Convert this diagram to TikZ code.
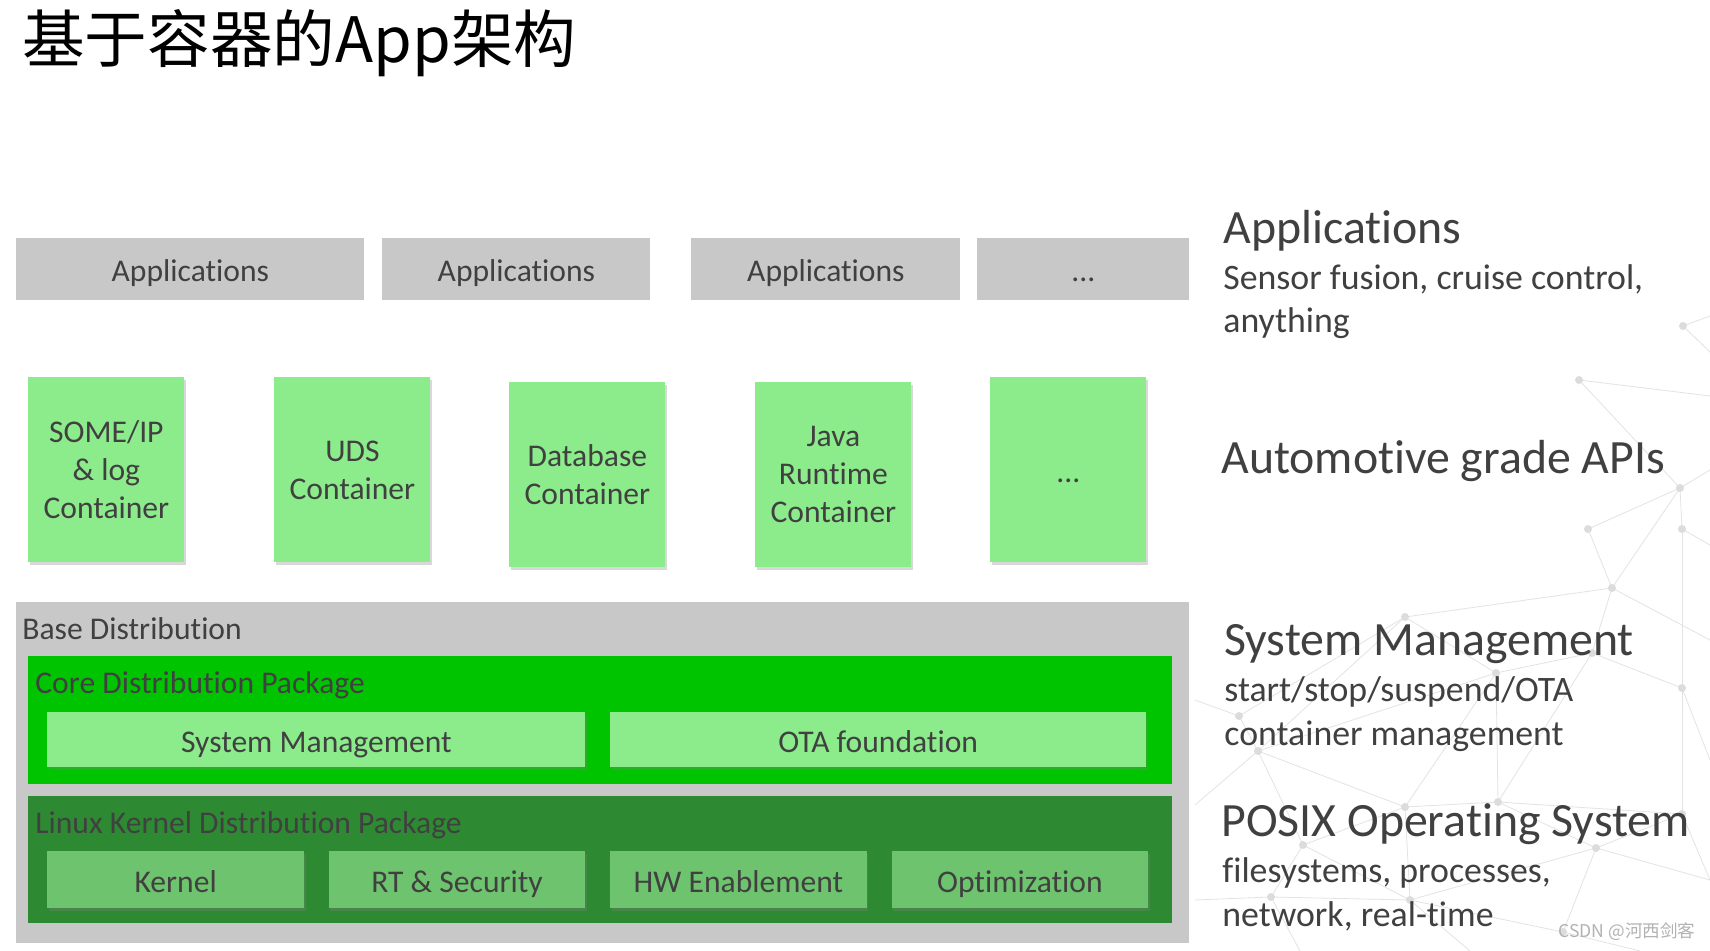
\documentclass[tikz,border=0pt]{standalone}
\usepackage{fontspec}
\setmainfont{Carlito}[Ligatures=NoCommon]
\newfontfamily\cjk{Noto Sans CJK SC}
\usetikzlibrary{positioning,shadows}
\definecolor{txtgray}{HTML}{404040}
\definecolor{appgray}{HTML}{C8C8C8}
\definecolor{lightgr}{HTML}{8CEC8C}
\definecolor{coregr}{HTML}{00C400}
\definecolor{linuxgr}{HTML}{2E8A32}
\definecolor{kernelgr}{HTML}{6EC46E}
\definecolor{netgray}{HTML}{E3E3E3}
\definecolor{dotgray}{HTML}{DCDCDC}
\tikzstyle{boxfont}=[font=\fontsize{15.8pt}{19pt}\selectfont, text=txtgray]
\tikzstyle{oneline}=[text height=12.2pt, text depth=0pt]
\tikzstyle{appbox}=[boxfont, oneline, fill=appgray, anchor=north west, minimum height=31pt, inner sep=0]
\tikzstyle{cont}=[boxfont, fill=lightgr, anchor=north west, minimum width=78pt,
		minimum height=92.5pt, align=center, inner sep=0,
		drop shadow={shadow xshift=0.8pt, shadow yshift=-1.2pt, opacity=0.3}]
\tikzstyle{panel}=[anchor=north west, inner sep=0]
\tikzstyle{ptitle}=[boxfont, anchor=base west, inner sep=0]
\tikzstyle{sub}=[boxfont, oneline, anchor=north west, inner sep=0,
		drop shadow={shadow xshift=0.8pt, shadow yshift=-1.2pt, opacity=0.3}]
\tikzstyle{heading}=[font=\fontsize{23.9pt}{28pt}\selectfont, text=txtgray, anchor=base west, inner sep=0]
\tikzstyle{detail}=[font=\fontsize{17.9pt}{22pt}\selectfont, text=txtgray, anchor=base west, inner sep=0]
\tikzstyle{netline}=[draw=netgray, line width=0.4pt]
\tikzstyle{netdot}=[circle, fill=dotgray, inner sep=0, minimum size=4pt]

\begin{document}
\begin{tikzpicture}[x=0.5pt, y=-0.5pt]
        \useasboundingbox (0,0) rectangle (1710,951);
        \fill[white] (0,0) rectangle (1710,951);
        % background network
        \foreach \n/\x/\y in {n1/1683/326, n2/1579/380, n3/1680/488, n4/1588/529,
            n5/1682/529, n6/1612/588, n7/1405/617, n8/1592/653, n9/1496/673,
            n10/1682/688, n11/1239/716, n12/1258/751, n13/1405/807, n14/1498/802,
            n15/1682/814, n16/1303/845, n17/1596/848, n18/1271/897, n19/1410/900,
            n20/1563/932}
            \coordinate (\n) at (\x,\y);
        \foreach \n/\x/\y in {e1/1710/316, e2/1710/396, e3/1710/470, e4/1710/545,
            e5/1710/640, e6/1710/760, e7/1710/880, e8/1195/700, e9/1195/805,
            e10/1195/900, e11/1300/951, e12/1470/951, e13/1640/951, e15/1710/352}
            \coordinate (\n) at (\x,\y);
        \foreach \a/\b in {n1/e1, n1/e15, n2/e2, n2/n3, n3/e3, n3/n4, n3/n6, n3/n5,
            n5/e4, n4/n6, n5/n10, n6/n7, n6/n8, n6/e5, n7/n9, n7/n11, n7/n12, n8/n9,
            n8/n10, n8/n14, n9/n12, n9/n13, n9/n14, n10/n15, n10/e6, n11/n12, n11/e8,
            n12/n13, n12/n16, n12/e9, n13/n14, n13/n16, n13/n19, n14/n17, n14/n15,
            n15/n17, n15/e7, n16/n18, n16/n19, n17/n19, n17/n20, n18/n19, n18/e10,
            n18/e11, n19/n20, n19/e12, n20/e13, n17/e7}
            \draw[netline] (\a) -- (\b);
        \foreach \n in {1,...,20}
            \node[netdot] at (n\n) {};

        \node[anchor=base west, inner sep=0, font=\cjk\fontsize{31.3pt}{36pt}\selectfont] (title) at (22,63) {基于容器的App架构};

        \node[appbox, minimum width=174pt] (app1) at (16,238) {Applications};
        \node[appbox, minimum width=134pt] (app2) at (382,238) {Applications};
        \node[appbox, minimum width=134.5pt] (app3) at (691,238) {Applications};
        \node[appbox, minimum width=106pt] (app4) at (977,238) {...};

        \node[cont] (someip) at (28,377) {SOME/IP\\\& log\\Container};
        \node[cont] (uds) at (274,377) {UDS\\Container};
        \node[cont] (db) at (509,382) {Database\\Container};
        \node[cont] (java) at (755,382) {Java\\Runtime\\Container};
        \node[cont, oneline] (more) at (990,377) {...};

        \node[panel, fill=appgray, minimum width=586.5pt, minimum height=170.5pt] (base) at (16,602) {};
        \node[ptitle] (basettl) at (22,640) {Base Distribution};
        \node[panel, fill=coregr, minimum width=572pt, minimum height=64pt] (core) at (28,656) {};
        \node[ptitle] (corettl) at (35,694) {Core Distribution Package};
        \node[sub, fill=lightgr, minimum width=269pt, minimum height=27.5pt] (sysm) at (47,712) {System Management};
        \node[sub, fill=lightgr, minimum width=268pt, minimum height=27.5pt, right=12pt of sysm] (ota) {OTA foundation};
        \node[panel, fill=linuxgr, minimum width=572pt, minimum height=63.5pt] (linux) at (28,796) {};
        \node[ptitle] (linuxttl) at (35,834) {Linux Kernel Distribution Package};
        \node[sub, fill=kernelgr, minimum width=128.3pt, minimum height=28.5pt] (kernel) at (47,851) {Kernel};
        \node[sub, fill=kernelgr, minimum width=128.3pt, minimum height=28.5pt, right=12pt of kernel] (rtsec) {RT \& Security};
        \node[sub, fill=kernelgr, minimum width=128.3pt, minimum height=28.5pt, right=12pt of rtsec] (hwen) {HW Enablement};
        \node[sub, fill=kernelgr, minimum width=128.3pt, minimum height=28.5pt, right=12pt of hwen] (optim) {Optimization};

        \node[heading] (happs) at (1223,244) {Applications};
        \node[detail] (dapps1) at (1223,290) {Sensor fusion, cruise control,};
        \node[detail] (dapps2) at (1223,333) {anything};
        \node[heading] (hapi) at (1221,474) {Automotive grade APIs};
        \node[heading] (hsysm) at (1224,656) {System Management};
        \node[detail] (dsysm1) at (1224,702) {start/stop/suspend/OTA};
        \node[detail] (dsysm2) at (1224,746) {container management};
        \node[heading] (hposix) at (1221,837) {POSIX Operating System};
        \node[detail] (dposix1) at (1222,883) {filesystems, processes,};
        \node[detail] (dposix2) at (1222,927) {network, real-time};

        \node[anchor=base west, inner sep=0, text=black!30, font=\cjk\fontsize{8.8pt}{10pt}\selectfont] (mark) at (1558,938) {CSDN @河西剑客};
    \end{tikzpicture}
\end{document}
